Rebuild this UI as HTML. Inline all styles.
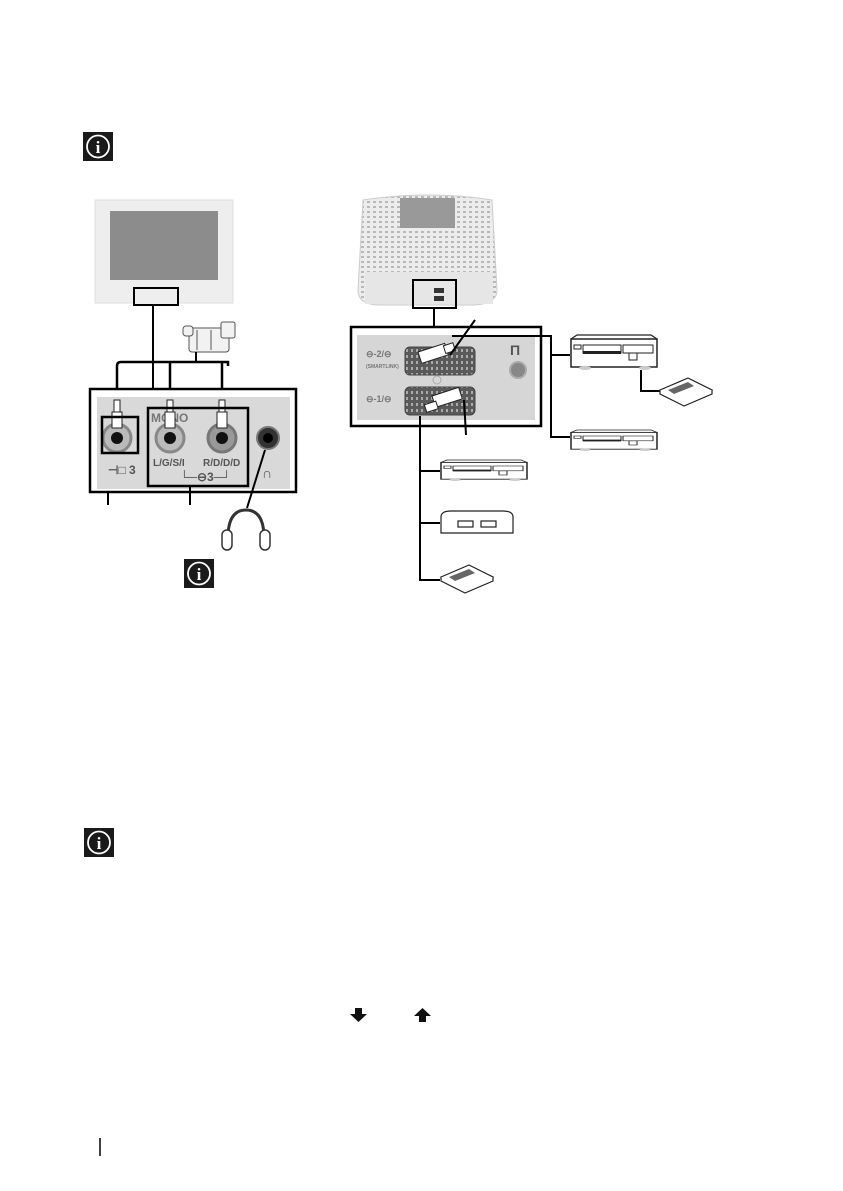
<!DOCTYPE html>
<html><head><style>
html,body{margin:0;padding:0;background:#fff;}
svg{display:block;font-family:"Liberation Sans",sans-serif;}
</style></head><body>
<svg width="843" height="1191" viewBox="0 0 843 1191" xmlns="http://www.w3.org/2000/svg">
<defs>
<pattern id="grill" width="6" height="5" patternUnits="userSpaceOnUse">
<rect width="6" height="5" fill="#ececec"/><rect x="1" y="1" width="3" height="2" fill="#b8b8b8"/>
</pattern>
<pattern id="pins" width="5" height="6" patternUnits="userSpaceOnUse">
<rect width="5" height="6" fill="#5a5a5a"/><rect x="1" y="1" width="2" height="3" fill="#aaa"/>
</pattern>
<g id="info">
<rect x="0" y="0" width="30" height="29" fill="#1a1a1a"/>
<circle cx="15" cy="14.5" r="11" fill="none" stroke="#fff" stroke-width="1.8"/>
<text x="15" y="21" font-family="Liberation Serif,serif" font-weight="bold" font-size="17" fill="#fff" text-anchor="middle">i</text>
</g>
<g id="vcr">
<rect x="0" y="4" width="86" height="28" fill="#fff" stroke="#222" stroke-width="1.5"/>
<path d="M0 4 L6 0 L80 0 L86 4" fill="none" stroke="#222" stroke-width="1.2"/>
<rect x="3" y="10" width="7" height="4" fill="none" stroke="#222"/>
<rect x="12" y="10" width="38" height="8" fill="none" stroke="#222"/>
<rect x="52" y="10" width="30" height="8" fill="none" stroke="#222"/>
<rect x="58" y="18" width="8" height="7" fill="none" stroke="#222"/>
<rect x="12" y="16" width="38" height="3" fill="#222"/>
<ellipse cx="14" cy="33" rx="6" ry="2" fill="#ccc"/><ellipse cx="74" cy="33" rx="6" ry="2" fill="#ccc"/>
</g>
<g id="cass">
<path d="M0 12 L28 0 L52 12 L24 24 Z" fill="#fff" stroke="#222" stroke-width="1.2"/>
<path d="M0 12 L0 16 L24 28 L52 16 L52 12" fill="#fff" stroke="#222" stroke-width="1.2"/>
<path d="M8 12 L28 4 L34 8 L14 16 Z" fill="#666"/>
</g>
<g id="plug">
<rect x="-3" y="0" width="6" height="12" fill="#fff" stroke="#222"/>
<rect x="-5" y="12" width="10" height="16" fill="#fff" stroke="#222"/>
</g>
</defs>

<use href="#info" x="83" y="132"/>

<!-- left TV -->
<rect x="95" y="200" width="138" height="103" fill="#eeeeee" stroke="#ddd"/>
<rect x="110" y="211" width="108" height="69" fill="#8c8c8c"/>
<rect x="134" y="288" width="44" height="17" fill="#eee" stroke="#000" stroke-width="2"/>
<line x1="153" y1="305" x2="153" y2="389" stroke="#000" stroke-width="2"/>
<!-- camcorder -->
<g transform="translate(183,322)" fill="#f2f2f2" stroke="#555" stroke-width="1">
<rect x="6" y="6" width="40" height="24" rx="3"/>
<rect x="0" y="4" width="10" height="10" rx="3"/>
<rect x="38" y="0" width="14" height="16" rx="2"/>
<line x1="14" y1="8" x2="14" y2="28"/><line x1="28" y1="8" x2="28" y2="28"/>
</g>
<line x1="196" y1="352" x2="196" y2="362" stroke="#000" stroke-width="2"/>
<path d="M117 398 V366 Q117 362 121 362 H228 V366" fill="none" stroke="#000" stroke-width="2.5"/>
<line x1="170" y1="362" x2="170" y2="398" stroke="#000" stroke-width="2.5"/>
<line x1="222" y1="362" x2="222" y2="398" stroke="#000" stroke-width="2.5"/>
<!-- left panel -->
<rect x="90" y="389" width="206" height="103" fill="#fff" stroke="#000" stroke-width="2.5"/>
<rect x="97" y="397" width="193" height="92" fill="#d9d9d9"/>
<text x="151" y="422" font-size="12" font-weight="bold" fill="#777">MONO</text>
<g fill="none">
<circle cx="117" cy="438" r="14" fill="#bbb" stroke="#888" stroke-width="3"/>
<circle cx="117" cy="438" r="6" fill="#111"/>
<circle cx="170" cy="438" r="14" fill="#bbb" stroke="#888" stroke-width="3"/>
<circle cx="170" cy="438" r="6" fill="#111"/>
<circle cx="222" cy="438" r="14" fill="#999" stroke="#777" stroke-width="3"/>
<circle cx="222" cy="438" r="6" fill="#111"/>
<circle cx="268" cy="438" r="11" fill="#333" stroke="#777" stroke-width="2"/>
<circle cx="268" cy="438" r="5" fill="#000"/>
</g>
<use href="#plug" x="117" y="400"/><use href="#plug" x="170" y="400"/><use href="#plug" x="222" y="400"/>
<rect x="102" y="417" width="36" height="36" fill="none" stroke="#000" stroke-width="2.5"/>
<rect x="148" y="408" width="100" height="78" fill="none" stroke="#000" stroke-width="2.5"/>
<text x="108" y="474" font-size="12" font-weight="bold" fill="#555">⊣□ 3</text>
<text x="153" y="466" font-size="10" font-weight="bold" fill="#555">L/G/S/I</text>
<text x="203" y="466" font-size="10" font-weight="bold" fill="#555">R/D/D/D</text>
<text x="180" y="481" font-size="12" font-weight="bold" fill="#555">└─⊖3─┘</text>
<text x="262" y="478" font-size="14" fill="#555">∩</text>
<line x1="108" y1="492" x2="108" y2="505" stroke="#000" stroke-width="2"/>
<line x1="190" y1="486" x2="190" y2="505" stroke="#000" stroke-width="2"/>
<line x1="265" y1="450" x2="247" y2="508" stroke="#000" stroke-width="2"/>
<!-- headphones -->
<path d="M228 538 Q228 510 246 510 Q264 510 264 538" fill="none" stroke="#333" stroke-width="3"/>
<rect x="222" y="530" width="10" height="20" rx="5" fill="#fff" stroke="#333" stroke-width="1.5"/>
<rect x="260" y="530" width="10" height="20" rx="5" fill="#fff" stroke="#333" stroke-width="1.5"/>
<use href="#info" x="184" y="559"/>

<!-- right TV rear -->
<path d="M363 200 Q430 190 492 200 L497 290 Q497 305 470 305 L380 305 Q358 305 358 290 Z" fill="url(#grill)" stroke="#ccc"/>
<rect x="400" y="198" width="55" height="30" fill="#999"/>
<rect x="365" y="272" width="128" height="32" fill="#e6e6e6"/>
<rect x="434" y="288" width="10" height="5" fill="#333"/><rect x="434" y="296" width="10" height="5" fill="#333"/>
<rect x="413" y="280" width="43" height="28" fill="none" stroke="#000" stroke-width="2"/>
<line x1="434" y1="308" x2="434" y2="327" stroke="#000" stroke-width="2"/>
<!-- right panel -->
<rect x="351" y="327" width="190" height="99" fill="#fff" stroke="#000" stroke-width="2.5"/>
<rect x="357" y="335" width="178" height="85" fill="#d6d6d6"/>
<rect x="405" y="347" width="70" height="28" rx="5" fill="url(#pins)" stroke="#444"/>
<rect x="405" y="387" width="70" height="28" rx="5" fill="url(#pins)" stroke="#444"/>
<text x="366" y="357" font-size="9" font-weight="bold" fill="#777">⊖-2/⊖</text>
<text x="366" y="368" font-size="5" font-weight="bold" fill="#777">(SMARTLINK)</text>
<text x="366" y="402" font-size="9" font-weight="bold" fill="#777">⊖-1/⊖</text>
<text x="510" y="355" font-size="14" font-weight="bold" fill="#555">Π</text>
<circle cx="518" cy="370" r="8" fill="#888" stroke="#aaa" stroke-width="2"/>
<circle cx="437" cy="380" r="4" fill="none" stroke="#aaa"/>
<!-- scart plugs -->
<g transform="translate(418,352) rotate(-18)"><rect x="0" y="0" width="28" height="12" fill="#fff" stroke="#222"/><rect x="26" y="2" width="10" height="8" fill="#fff" stroke="#222"/></g>
<g transform="translate(432,396) rotate(-18)"><rect x="0" y="0" width="28" height="12" fill="#fff" stroke="#222"/><rect x="-10" y="6" width="12" height="8" fill="#fff" stroke="#222"/></g>
<line x1="475" y1="320" x2="450" y2="355" stroke="#000" stroke-width="2"/>
<line x1="464" y1="400" x2="466" y2="435" stroke="#000" stroke-width="2"/>
<path d="M452 336 H551 V437 H570" fill="none" stroke="#000" stroke-width="2"/>
<line x1="551" y1="355" x2="570" y2="355" stroke="#000" stroke-width="2"/>
<use href="#vcr" x="571" y="335"/>
<path d="M641 370 V391 H660" fill="none" stroke="#000" stroke-width="2"/>
<use href="#cass" x="660" y="378"/>
<g transform="translate(571,430) scale(1,0.6)"><use href="#vcr" x="0" y="0"/></g>
<path d="M420 416 V580 H440" fill="none" stroke="#000" stroke-width="2"/>
<line x1="420" y1="471" x2="440" y2="471" stroke="#000" stroke-width="2"/>
<line x1="420" y1="523" x2="440" y2="523" stroke="#000" stroke-width="2"/>
<g transform="translate(441,460) scale(1,0.6)"><use href="#vcr" x="0" y="0"/></g>
<!-- console -->
<g transform="translate(441,511)" fill="#fff" stroke="#222" stroke-width="1.2">
<path d="M0 6 Q0 0 10 0 H62 Q72 0 72 6 V22 H0 Z"/>
<rect x="17" y="10" width="15" height="6"/><rect x="40" y="10" width="15" height="6"/>
</g>
<use href="#cass" x="441" y="565"/>

<use href="#info" x="84" y="828"/>
<!-- arrows -->
<path d="M355 1008 H362 V1014 H367 L358.5 1022 L350 1014 H355 Z" fill="#111"/>
<path d="M419 1022 H426 V1016 H431 L422.5 1008 L414 1016 H419 Z" fill="#111"/>
<line x1="100" y1="1138" x2="100" y2="1156" stroke="#000" stroke-width="1.5"/>
</svg>
</body></html>
